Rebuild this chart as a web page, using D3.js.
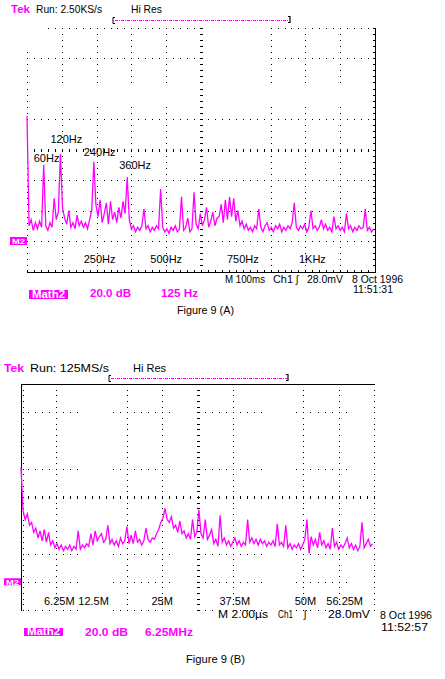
<!DOCTYPE html>
<html>
<head>
<meta charset="utf-8">
<script src="https://cdn.jsdelivr.net/npm/d3@7"></script>
<style>
body { margin: 0; background: #fff; }
svg { display: block; font-family: "Liberation Sans", Arial, sans-serif; }
</style>
</head>
<body>
<svg id="scope" width="445" height="679"></svg>
<script>
// ---- Figure 9 (A): FFT of mains ripple, 125 Hz/div, 20 dB/div, level in dB above the M2 marker
var binA = 7.5; // Hz per FFT bin
var specA = [82,10,14,7,12,8,13,9,50,10,7,12,9,28,14,19,57,22,15,11,
  20,9,12,8,17,10,13,9,12,8,14,20,52,24,16,27,12,18,25,11,
  26,14,19,12,22,15,26,18,42,14,8,10,6,9,7,10,21,8,10,6,
  9,7,10,8,34,9,6,8,5,9,7,10,6,8,29,7,9,15,6,8,
  32,11,8,18,10,14,22,9,13,19,10,15,16,24,12,27,14,29,16,28,
  13,20,10,13,8,11,7,9,6,10,8,21,9,6,10,12,7,9,6,10,
  8,11,6,9,7,10,8,12,25,9,7,10,8,11,6,9,20,8,10,7,
  9,14,8,11,7,9,6,16,8,10,7,9,6,18,8,10,6,9,7,10,
  8,9,21,7,9,6,8];
var tickFreqA = [250, 500, 750, 1000];
var tickLabelA = ["250Hz", "500Hz", "750Hz", "1KHz"];
var peakFreqA = [60, 120, 240, 360];
var peakLabelA = ["60Hz", "120Hz", "240Hz", "360Hz"];

// ---- Figure 9 (B): FFT at 6.25 MHz/div, 20 dB/div
var binB = 0.375; // MHz per FFT bin
var specB = [81,50,44,48,40,42,35,38,31,36,29,37,28,35,26,29,24,27,23,26,
  22,25,23,26,22,25,23,36,23,26,24,27,25,34,26,36,29,32,34,28,
  30,40,27,30,26,29,25,31,27,29,39,27,33,27,36,28,30,26,29,38,
  30,28,31,30,34,37,42,45,52,44,42,46,38,40,35,43,34,36,31,34,
  30,44,32,35,51,34,31,44,30,33,37,27,30,25,47,28,31,26,29,25,
  28,31,26,29,25,28,26,44,28,31,27,30,26,30,27,29,25,28,26,29,
  25,41,26,28,25,40,24,27,23,26,24,27,23,26,30,44,20,32,26,30,
  24,35,26,29,24,27,23,38,25,28,23,26,24,27,31,24,27,23,26,22,
  25,42,24,27,30,25,27];
var tickFreqB = [6.25, 12.5, 25, 37.5, 50, 56.25];
var tickLabelB = ["6.25M", "12.5M", "25M", "37.5M", "50M", "56.25M"];

var MAG = "#ff00ff";
var svg = d3.select("#scope");

// screen layout of the two graticules
var scrA = {x0: 27, x1: 375, y0: 27.5, y1: 271.5, fMax: 1250};
var scrB = {x0: 21, x1: 374, y0: 384, y1: 610, fMax: 62.5};

function txt(x, y, s, o) {
  o = o || {};
  var t = svg.append("text").attr("x", x).attr("y", y).text(s)
    .attr("font-size", o.size || 11)
    .attr("fill", o.fill || "#000")
    .attr("font-weight", o.weight || "normal")
    .attr("text-anchor", o.anchor || "start");
  if (o.w) t.attr("textLength", o.w).attr("lengthAdjust", "spacingAndGlyphs");
  return t;
}

// dotted graticule, center cross with ticks, solid edges
function graticule(s, x, y, o) {
  var g = svg.append("g");
  var gap = function(px, py) {
    return o.gaps.some(function(r) { return px >= r[0] && px <= r[1] && py >= r[2] && py <= r[3]; });
  };
  var dots = [];
  var fDiv = s.fMax / 10;
  for (var c = 0; c <= 10; c++) {
    if (o.skipCols.indexOf(c) >= 0) continue;
    if ((c == 0 && o.solid.left) || (c == 10 && o.solid.right)) continue;
    for (var k = 0; k <= 40; k++) {
      var px = x(c * fDiv), py = y(-20 + k * 4);
      if (!gap(px, py)) dots.push([px, py]);
    }
  }
  for (var r = 0; r <= 8; r++) {
    if (o.skipRows.indexOf(r) >= 0) continue;
    if ((r == 8 && o.solid.top) || (r == 0 && o.solid.bottom)) continue;
    for (var k = 0; k <= 50; k++) {
      var px = x(k * fDiv / 5), py = y(-20 + r * 20);
      if (!gap(px, py)) dots.push([px, py]);
    }
  }
  g.selectAll(".dot").data(dots).enter().append("rect")
    .attr("x", function(d) { return Math.round(d[0]); })
    .attr("y", function(d) { return Math.round(d[1]); })
    .attr("width", 1).attr("height", 1).attr("fill", "#000");

  // center vertical axis: small tick pairs at every minor division
  var cx = Math.round(x(s.fMax / 2));
  g.selectAll(".cv").data(d3.range(0, 41)).enter().append("rect")
    .attr("x", cx - 1).attr("y", function(k) { return Math.round(y(-20 + k * 4)); })
    .attr("width", 3).attr("height", 1).attr("fill", "#000");
  var cy = Math.round(y(60));
  g.selectAll(".ch").data(d3.range(0, 51)).enter().append("rect")
    .attr("x", function(k) { return Math.round(x(k * fDiv / 5)); })
    .attr("y", cy - 1).attr("width", 1).attr("height", 3).attr("fill", "#000");

  var L = Math.round(s.x0), R = Math.round(s.x1), T = Math.round(s.y0), B = Math.round(s.y1);
  var ln = function(a, b, c2, d) {
    g.append("line").attr("x1", a).attr("y1", b).attr("x2", c2).attr("y2", d)
      .attr("stroke", "#000").attr("stroke-width", 1.2).attr("shape-rendering", "crispEdges");
  };
  if (o.solid.right) {
    ln(R + 0.5, T, R + 0.5, B + 1);
    g.selectAll(".rt").data(d3.range(0, 41)).enter().append("rect")
      .attr("x", R - 2).attr("y", function(k) { return Math.round(y(-20 + k * 4)); })
      .attr("width", 3).attr("height", 1);
  }
  if (o.solid.bottom) {
    ln(L + 1, B + 0.5, R + 1, B + 0.5);
    g.selectAll(".bt").data(d3.range(0, 51)).enter().append("rect")
      .attr("x", function(k) { return Math.round(x(k * fDiv / 5)); })
      .attr("y", B - 2).attr("width", 1).attr("height", 2);
  }
  if (o.solid.top) ln(L, T + 0.5, R + 1, T + 0.5);
  if (o.solid.left) {
    ln(L + 0.5, T, L + 0.5, B + 1);
    g.selectAll(".lt").data(d3.range(0, 41)).enter().append("rect")
      .attr("x", L + 2).attr("y", function(k) { return Math.round(y(-20 + k * 4)); })
      .attr("width", 1).attr("height", 1);
  }
}

function trace(s, x, y, spec, bin) {
  var line = d3.line()
    .x(function(d, i) { return x(i * bin); })
    .y(function(d) { return y(d); });
  svg.append("path").datum(spec).attr("d", line)
    .attr("fill", "none").attr("stroke", MAG).attr("stroke-width", 1.3)
    .attr("stroke-linejoin", "miter");
}

function marker(s, y, left, h) {
  var my = y(0);
  svg.append("rect").attr("x", left).attr("y", my - h / 2).attr("width", s.x0 - left).attr("height", h).attr("fill", MAG);
  txt((left + s.x0) / 2, my + 2.8, "M2", {fill: "#fff", size: 8, weight: "bold", anchor: "middle", w: s.x0 - left - 4});
}

function bracket(xa, xb, yy) {
  svg.append("line").attr("x1", xa + 2).attr("x2", xb).attr("y1", yy).attr("y2", yy)
    .attr("stroke", MAG).attr("stroke-width", 1).attr("stroke-dasharray", "3,1,1,1");
  svg.append("path").attr("d", "M" + (xa + 2) + "," + (yy - 3) + "H" + xa + "V" + (yy + 3) + "H" + (xa + 2))
    .attr("fill", "none").attr("stroke", "#000").attr("stroke-width", 1);
  svg.append("path").attr("d", "M" + (xb - 1) + "," + (yy - 4) + "H" + (xb + 1) + "V" + (yy + 2) + "H" + (xb - 1))
    .attr("fill", "none").attr("stroke", "#000").attr("stroke-width", 1.2);
}

function mathBox(xa, xb, yt, yb) {
  svg.append("rect").attr("x", xa).attr("y", yt).attr("width", xb - xa).attr("height", yb - yt).attr("fill", MAG);
  txt((xa + xb) / 2, yb - 1.5, "Math2", {fill: "#fff", size: 10, weight: "bold", anchor: "middle", w: xb - xa - 6});
}

// ================= Figure 9 (A) =================
var xA = d3.scaleLinear().domain([0, scrA.fMax]).range([scrA.x0, scrA.x1]);
var yA = d3.scaleLinear().domain([-20, 140]).range([scrA.y1, scrA.y0]);

txt(11, 13.3, "Tek", {fill: MAG, weight: "bold", w: 19});
txt(36, 13.3, "Run: 2.50KS/s", {w: 66});
txt(131, 13.3, "Hi Res", {w: 31});
bracket(113, 289, 20.5);

graticule(scrA, xA, yA, {
  solid: {right: true, bottom: true},
  skipCols: [6], skipRows: [6],
  gaps: [[20, 45, 20, 48], [205, 268, 20, 115], [30, 372, 84, 104], [28, 128, 146, 152], [205, 268, 146, 152]]
});
trace(scrA, xA, yA, specA, binA);
marker(scrA, yA, 10, 8);

var peakNudgeA = [[-10, 3], [-10, 11], [-10, 6], [-8, 8]];
peakFreqA.forEach(function(f, i) {
  var v = specA[Math.round(f / binA)];
  txt(xA(f) + peakNudgeA[i][0], yA(v) - peakNudgeA[i][1], peakLabelA[i], {size: 11});
});
var tickNudgeA = [3, 0, 7, 7];
tickFreqA.forEach(function(f, i) {
  txt(xA(f) + tickNudgeA[i], 263.3, tickLabelA[i], {anchor: "middle", size: 11});
});

txt(225, 282.5, "M 100ms", {w: 40, size: 10});
txt(273, 282.5, "Ch1", {w: 20, size: 10});
txt(296, 282.5, "\u0283", {size: 10});
txt(307, 282.5, "28.0mV", {w: 36, size: 10});
txt(352, 282.5, "8 Oct 1996", {w: 51, size: 10});
txt(353, 293, "11:51:31", {w: 40, size: 10});
mathBox(29, 68, 290, 299);
txt(90, 297, "20.0 dB", {fill: MAG, w: 41, weight: "bold", size: 10});
txt(161, 297, "125 Hz", {fill: MAG, w: 37, weight: "bold", size: 10});
txt(177, 314, "Figure 9 (A)", {w: 57, size: 10});

// ================= Figure 9 (B) =================
var xB = d3.scaleLinear().domain([0, scrB.fMax]).range([scrB.x0, scrB.x1]);
var yB = d3.scaleLinear().domain([-20, 140]).range([scrB.y1, scrB.y0]);

txt(4, 371.7, "Tek", {fill: MAG, weight: "bold", w: 20});
txt(30, 371.7, "Run: 125MS/s", {w: 79});
txt(133, 371.7, "Hi Res", {w: 33});
bracket(109, 287, 378.5);

var rowsOut = [[400, 490], [505, 615]];
var gapsB = [];
[[78, 112], [170, 194], [262, 290], [347, 370]].forEach(function(xr) {
  rowsOut.forEach(function(yr) { gapsB.push([xr[0], xr[1], yr[0], yr[1]]); });
});
graticule(scrB, xB, yB, {
  solid: {top: true, left: true},
  skipCols: [2, 7], skipRows: [3, 6],
  gaps: gapsB
});
trace(scrB, xB, yB, specB, binB);
marker(scrB, yB, 4, 7);

var tickNudgeB = [3, 2, 0, 2, 2, 6];
tickFreqB.forEach(function(f, i) {
  txt(xB(f) + tickNudgeB[i], 605, tickLabelB[i], {anchor: "middle", size: 11});
});

txt(218, 617.7, "M 2.00\u00b5s", {w: 50, size: 10});
txt(278, 617.7, "Ch1", {w: 15, size: 10});
txt(304, 617.7, "\u0283", {size: 10});
txt(328, 617.7, "28.0mV", {w: 42, size: 10});
txt(380, 619, "8 Oct 1996", {w: 52, size: 10});
txt(381, 631, "11:52:57", {w: 47, size: 10});
mathBox(24, 63, 628, 636);
txt(85, 635.7, "20.0 dB", {fill: MAG, w: 43, weight: "bold", size: 10});
txt(145, 635.7, "6.25MHz", {fill: MAG, w: 48, weight: "bold", size: 10});
txt(186, 663, "Figure 9 (B)", {w: 59, size: 10.5});
</script>
</body>
</html>
